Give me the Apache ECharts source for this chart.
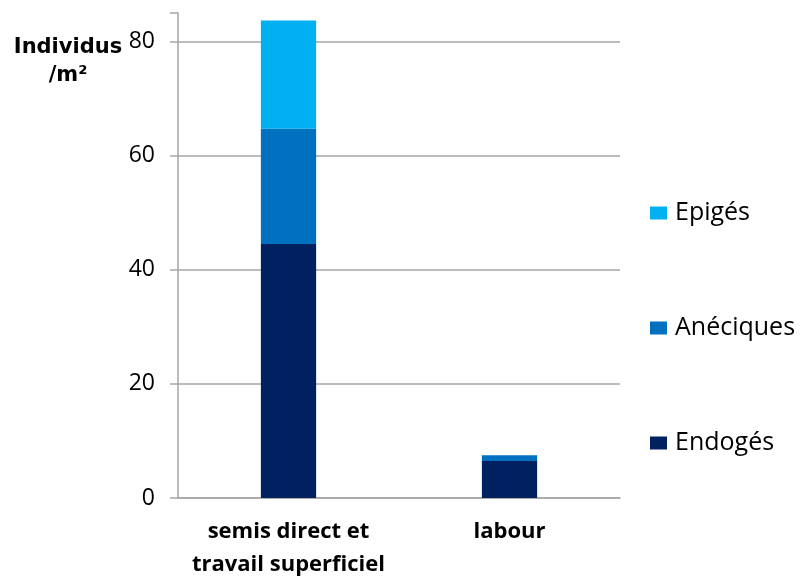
<!DOCTYPE html>
<html>
<head>
<meta charset="utf-8">
<script src="https://cdn.jsdelivr.net/npm/echarts@6/dist/echarts.min.js"></script>
<style>html,body{margin:0;padding:0;background:#fff}#c{width:806px;height:576px}</style>
</head>
<body>
<div id="c"></div>
<script>
const categories = ['semis direct et\ntravail superficiel', 'labour'];
const endoges = [44.5, 6.5];
const aneciques = [20.2, 1.0];
const epiges = [19.0, 0];
const yTicks = [0, 20, 40, 60, 80];
const yTitle = 'Individus\n/m²';

const chart = echarts.init(document.getElementById('c'), null, {renderer: 'canvas'});
const gray = '#A6A6A6';
const font = '"Open Sans", sans-serif';
chart.setOption({
  animation: false,
  backgroundColor: '#fff',
  title: {
    text: yTitle, left: 63, top: 29, textAlign: 'center',
    textStyle: {fontFamily: 'DejaVu Sans', fontWeight: 'bold', fontSize: 21, lineHeight: 28, color: '#000'}
  },
  legend: {
    orient: 'vertical', left: 645, top: 191, itemGap: 81,
    itemWidth: 17, itemHeight: 13, icon: 'rect',
    data: ['Epigés', 'Anéciques', 'Endogés'],
    textStyle: {fontFamily: font, fontSize: 25, lineHeight: 34, color: '#000', padding: [0, 0, 0, 3]}
  },
  grid: {left: 178, right: 186, top: 13, bottom: 78, containLabel: false, outerBoundsMode: 'none'},
  xAxis: {
    type: 'category', data: categories,
    axisLine: {lineStyle: {color: gray, width: 1.5}},
    axisTick: {show: false},
    axisLabel: {interval: 0, hideOverlap: false, fontFamily: font, fontWeight: 'bold', fontSize: 22, lineHeight: 33, color: '#000', margin: 17}
  },
  yAxis: {
    type: 'value', min: 0, max: 85, interval: 20,
    axisLine: {show: true, lineStyle: {color: gray, width: 1.5}},
    axisTick: {show: true, length: 8, lineStyle: {color: gray, width: 1.5}},
    axisLabel: {fontFamily: font, fontSize: 23, color: '#000', margin: 23, customValues: yTicks},
    splitLine: {show: true, showMaxLine: false, lineStyle: {color: gray, width: 1.5}}
  },
  series: [
    {name: 'Endogés', type: 'bar', stack: 's', data: endoges, barWidth: '25%', itemStyle: {color: '#002060'}},
    {name: 'Anéciques', type: 'bar', stack: 's', data: aneciques, barWidth: '25%', itemStyle: {color: '#0070C0'}},
    {name: 'Epigés', type: 'bar', stack: 's', data: epiges, barWidth: '25%', itemStyle: {color: '#00B0F0'}}
  ]
});
</script>
</body>
</html>
